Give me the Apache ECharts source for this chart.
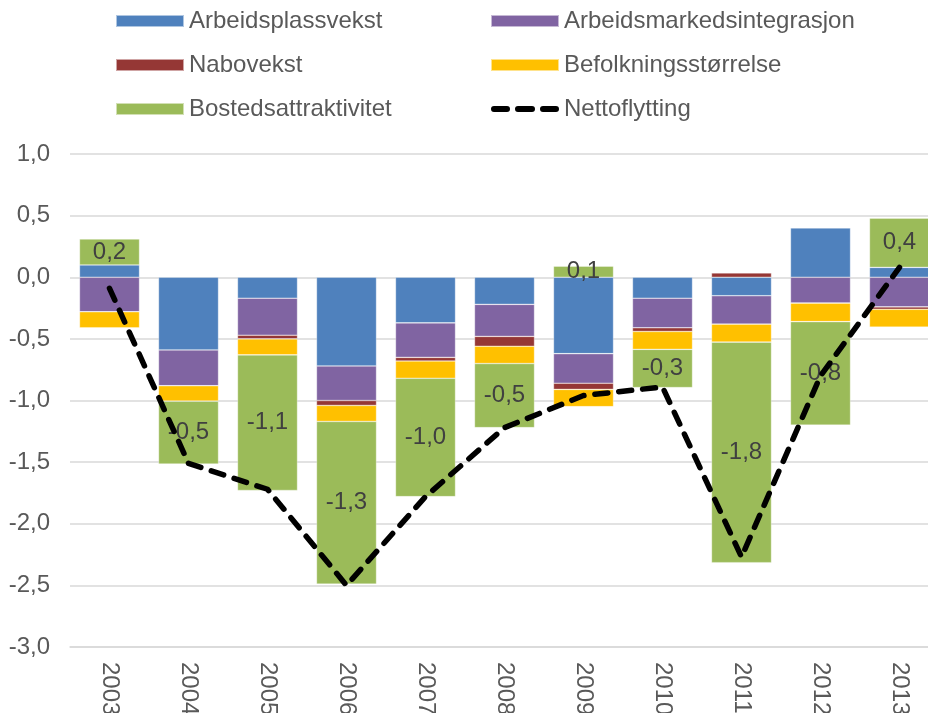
<!DOCTYPE html>
<html>
<head>
<meta charset="utf-8">
<script src="https://cdn.jsdelivr.net/npm/echarts@6/dist/echarts.min.js"></script>
<style>
  html, body { margin: 0; padding: 0; background: #fff; }
  #chart { width: 928px; height: 713px; }
</style>
</head>
<body>
<div id="chart"></div>
<script>
// Components of net migration per year
const years = ['2003', '2004', '2005', '2006', '2007', '2008', '2009', '2010', '2011', '2012', '2013'];
const arbeidsplassvekst = [0.10, -0.59, -0.17, -0.72, -0.37, -0.22, -0.62, -0.17, -0.15, 0.40, 0.08];
const arbeidsmarkedsintegrasjon = [-0.28, -0.29, -0.30, -0.28, -0.28, -0.26, -0.24, -0.24, -0.23, -0.21, -0.24];
const nabovekst = [0, 0, -0.03, -0.04, -0.03, -0.08, -0.05, -0.03, 0.035, 0, -0.02];
const befolkningsstorrelse = [-0.13, -0.125, -0.13, -0.13, -0.14, -0.14, -0.14, -0.145, -0.146, -0.15, -0.145];
const bostedsattraktivitet = [0.21, -0.51, -1.10, -1.32, -0.96, -0.52, 0.09, -0.31, -1.79, -0.84, 0.40];
const nettoflytting = [-0.09, -1.51, -1.72, -2.50, -1.78, -1.22, -0.96, -0.89, -2.27, -0.80, 0.08];

const FONT = 'Liberation Sans';
const TEXT = '#595959';
const comma = v => v.toFixed(1).replace('.', ',');

// Legend key for the dashed line: three rounded dashes inside a 68x12 box
const DASH_ICON = 'path://' +
  'M0,0L0.01,0L0,0.01Z M68,12L67.99,12L68,11.99Z ' +
  'M3,3H16A3,3 0 0 1 16,9H3A3,3 0 0 1 3,3Z ' +
  'M27,3H41A3,3 0 0 1 41,9H27A3,3 0 0 1 27,3Z ' +
  'M52,3H65A3,3 0 0 1 65,9H52A3,3 0 0 1 52,3Z';

const barSeries = (name, data, color, extra) => Object.assign({
  name: name,
  type: 'bar',
  stack: 'total',
  data: data,
  barWidth: '76%',
  itemStyle: { color: color, borderColor: 'rgba(255,255,255,0.55)', borderWidth: 0.6 }
}, extra || {});

const legendBase = {
  orient: 'vertical', top: 9, itemGap: 20, padding: 0,
  itemWidth: 68, itemHeight: 12,
  textStyle: { fontFamily: FONT, fontSize: 24, color: TEXT }
};

const chart = echarts.init(document.getElementById('chart'), null, { renderer: 'canvas' });
chart.setOption({
  animation: false,
  backgroundColor: '#ffffff',
  textStyle: { fontFamily: FONT },
  legend: [
    Object.assign({}, legendBase, {
      left: 115,
      data: [
        { name: 'Arbeidsplassvekst', icon: 'rect' },
        { name: 'Nabovekst', icon: 'rect' },
        { name: 'Bostedsattraktivitet', icon: 'rect' }
      ]
    }),
    Object.assign({}, legendBase, {
      left: 490,
      data: [
        { name: 'Arbeidsmarkedsintegrasjon', icon: 'rect' },
        { name: 'Befolkningsstørrelse', icon: 'rect' },
        { name: 'Nettoflytting', icon: DASH_ICON, itemStyle: { color: '#000000', borderWidth: 0 } }
      ]
    })
  ],
  grid: { left: 70, top: 154, width: 869, bottom: 66, containLabel: false, outerBoundsMode: 'none' },
  xAxis: {
    type: 'category',
    data: years,
    axisLine: { onZero: false, lineStyle: { color: '#d9d9d9', width: 1.5 } },
    axisTick: { show: false },
    axisLabel: { rotate: -90, margin: 15, fontFamily: FONT, fontSize: 24, color: TEXT }
  },
  yAxis: {
    type: 'value',
    min: -3, max: 1, interval: 0.5,
    axisLine: { show: false },
    axisTick: { show: false },
    splitLine: { lineStyle: { color: '#d9d9d9', width: 1.5 } },
    axisLabel: { margin: 20, fontFamily: FONT, fontSize: 24, color: TEXT, formatter: v => comma(v) }
  },
  series: [
    barSeries('Arbeidsplassvekst', arbeidsplassvekst, '#4F81BD'),
    barSeries('Arbeidsmarkedsintegrasjon', arbeidsmarkedsintegrasjon, '#8064A2'),
    barSeries('Nabovekst', nabovekst, '#953735'),
    barSeries('Befolkningsstørrelse', befolkningsstorrelse, '#FFC000'),
    barSeries('Bostedsattraktivitet', bostedsattraktivitet, '#9BBB59', {
      label: {
        show: true, position: 'inside',
        fontFamily: FONT, fontSize: 24, color: '#404040',
        formatter: p => comma(p.value)
      }
    }),
    {
      name: 'Nettoflytting',
      type: 'line',
      data: nettoflytting,
      symbol: 'none',
      z: 5,
      itemStyle: { color: '#000000' },
      lineStyle: { color: '#000000', width: 5.5, type: [13, 11], cap: 'round', join: 'round' }
    }
  ]
});
</script>
</body>
</html>
